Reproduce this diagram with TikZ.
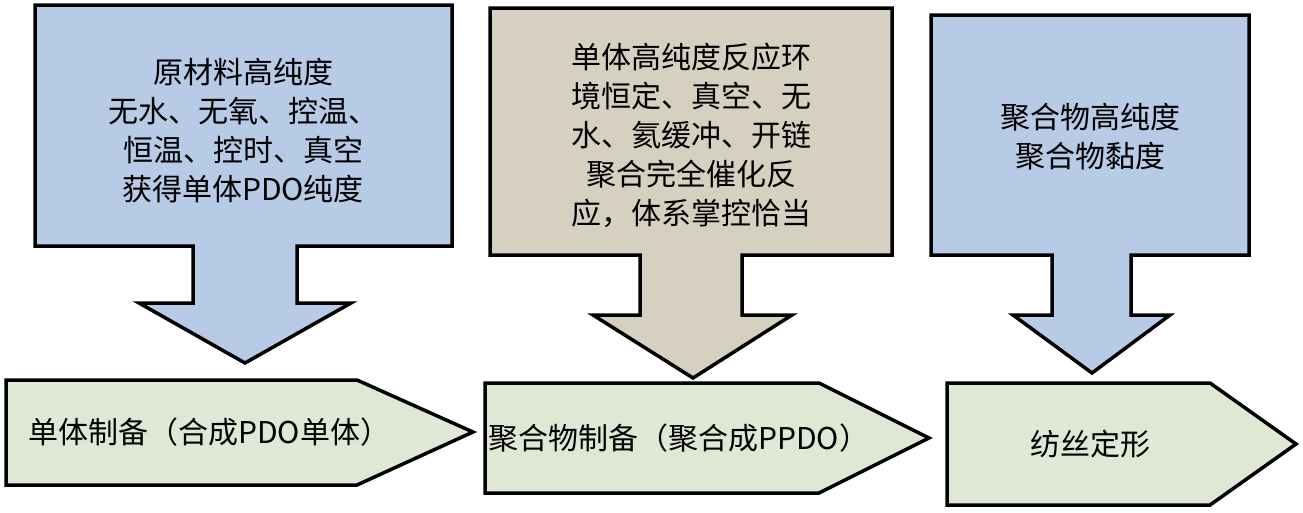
\documentclass[tikz,border=0pt]{standalone}
\usepackage{fontspec}
\setmainfont{Noto Sans CJK SC}
\usetikzlibrary{positioning}
\definecolor{callblue}{RGB}{183,203,230}
\definecolor{calltan}{RGB}{214,208,193}
\definecolor{stepgreen}{RGB}{223,231,213}
\tikzset{
  outline/.style={draw=black,line width=3.5pt,line join=miter},
  txt/.style={align=center,font=\fontsize{30}{39}\selectfont,inner sep=0pt}
}
\begin{document}
\begin{tikzpicture}[x=1pt,y=-1pt]
  \useasboundingbox (0,0) rectangle (1303,512);
  % callouts
  \draw[outline,fill=callblue] (35,5) -- (452,5) -- (452,246) -- (297,246) -- (297,303)
     -- (351,303) -- (245,363) -- (139,303) -- (193,303) -- (193,246) -- (35,246) -- cycle;
  \draw[outline,fill=calltan] (490,8) -- (892,8) -- (892,255) -- (742,255) -- (742,315)
     -- (792,315) -- (693,378) -- (593,315) -- (640,315) -- (640,255) -- (490,255) -- cycle;
  \draw[outline,fill=callblue] (931,15) -- (1249,15) -- (1249,255) -- (1131,255) -- (1131,315)
     -- (1170,315) -- (1092,373) -- (1013,315) -- (1052,315) -- (1052,255) -- (931,255) -- cycle;
  % steps
  \draw[outline,fill=stepgreen] (6,380) -- (357,380) -- (473,432) -- (357,485) -- (6,485) -- cycle;
  \draw[outline,fill=stepgreen] (485,383) -- (819,383) -- (929,438) -- (819,493) -- (485,493) -- cycle;
  \draw[outline,fill=stepgreen] (947,383) -- (1210,383) -- (1296,444) -- (1210,505) -- (947,505) -- cycle;

  \node[txt] (raw) at (243,131) {原材料高纯度\\无水、无氧、控温、\\恒温、控时、真空\\获得单体PDO纯度};
  \node[txt] (mono) at (691,135) {单体高纯度反应环\\境恒定、真空、无\\水、氦缓冲、开链\\聚合完全催化反\\应，体系掌控恰当};
  \node[txt] (poly) at (1090,137) {聚合物高纯度\\聚合物黏度};
  \node[txt,anchor=west] (s1) at (28,432) {单体制备（合成PDO单体）};
  \node[txt,anchor=west] (s2) at (488,438) {聚合物制备（聚合成PPDO）};
  \node[txt] (s3) at (1090,444) {纺丝定形};
\end{tikzpicture}
\end{document}
